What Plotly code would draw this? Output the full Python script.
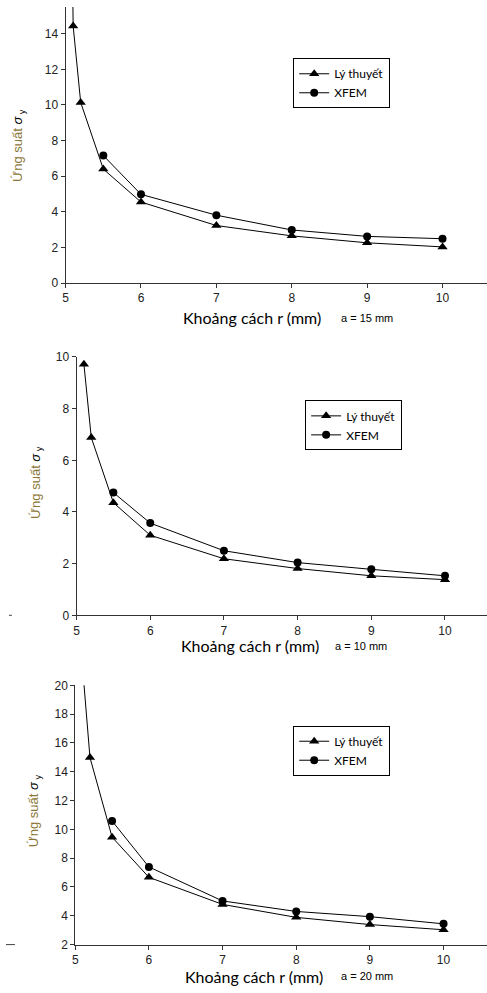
import plotly.graph_objects as go

# ---------------- data ----------------
r_theory_15 = [5.01, 5.1, 5.2, 5.5, 6, 7, 8, 9, 10]
s_theory_15 = [45.7, 14.44, 10.14, 6.40, 4.55, 3.23, 2.65, 2.26, 2.03]
r_xfem = [5.5, 6, 7, 8, 9, 10]
s_xfem_15 = [7.16, 4.98, 3.81, 2.98, 2.62, 2.49]

r_theory_10 = [5.1, 5.2, 5.5, 6, 7, 8, 9, 10]
s_theory_10 = [9.72, 6.88, 4.36, 3.10, 2.19, 1.81, 1.53, 1.38]
s_xfem_10 = [4.75, 3.57, 2.50, 2.04, 1.78, 1.53]

r_theory_20 = [5.1, 5.2, 5.5, 6, 7, 8, 9, 10]
s_theory_20 = [21.2, 14.98, 9.46, 6.67, 4.79, 3.89, 3.39, 3.03]
s_xfem_20 = [10.58, 7.39, 5.03, 4.30, 3.94, 3.44]

series_names = ["Lý thuyết", "XFEM"]
x_title = "Khoảng cách r (mm)"
panel_notes = ["a = 15 mm", "a = 10 mm", "a = 20 mm"]
y_title = "<span style='color:#8a7636'>Ứng suất </span><i>σ</i><sub> y</sub>"

W, H = 487, 993

def py(px):
    return 1 - px / H

def pxx(px):
    return px / W

fig = go.Figure()

panels = [
    dict(rt=r_theory_15, st=s_theory_15, sx=s_xfem_15, xax="x", yax="y", leg="legend"),
    dict(rt=r_theory_10, st=s_theory_10, sx=s_xfem_10, xax="x2", yax="y2", leg="legend2"),
    dict(rt=r_theory_20, st=s_theory_20, sx=s_xfem_20, xax="x3", yax="y3", leg="legend3"),
]

for p in panels:
    fig.add_trace(go.Scatter(
        x=p["rt"], y=p["st"], name=series_names[0], mode="lines+markers",
        line=dict(color="black", width=1),
        marker=dict(symbol="triangle-up", size=9, color="black"),
        xaxis=p["xax"], yaxis=p["yax"], legend=p["leg"]))
    fig.add_trace(go.Scatter(
        x=r_xfem, y=p["sx"], name=series_names[1], mode="lines+markers",
        line=dict(color="black", width=1),
        marker=dict(symbol="circle", size=8, color="black"),
        xaxis=p["xax"], yaxis=p["yax"], legend=p["leg"]))

tickfont = dict(family="Liberation Sans, Arial, sans-serif", size=12, color="#222")
axis_common = dict(showline=True, linecolor="#333", linewidth=1, ticks="outside",
                   ticklen=4, tickcolor="#333", showgrid=False, zeroline=False,
                   tickfont=tickfont)

# pixel geometry of the three plot areas
geo = [
    dict(xl=63, yt=0, yb=280, xr=[5, 10.59], yr=[0, 15.5]),
    dict(xl=74, yt=355, yb=617, xr=[5, 10.57], yr=[0, 10]),
    dict(xl=72.7, yt=688, yb=951, xr=[5, 10.59], yr=[2, 20]),
]

layout = dict(width=W, height=H, margin=dict(l=0, r=0, t=0, b=0),
              paper_bgcolor="white", plot_bgcolor="white", showlegend=True)

for i, g in enumerate(geo):
    sfx = "" if i == 0 else str(i + 1)
    layout["xaxis" + sfx] = dict(axis_common, domain=[pxx(g["xl"]), 1.0], range=g["xr"],
                                 dtick=1, tick0=5, anchor="y" + sfx)
    layout["yaxis" + sfx] = dict(axis_common, domain=[py(g["yb"]), py(g["yt"])], range=g["yr"],
                                 dtick=2, tick0=0, anchor="x" + sfx)

legfont = dict(family="Lato, Liberation Sans, sans-serif", size=12, color="black")
leg_pos = [(292, 52), (304, 399), (292, 729)]
for i, (lx, ly) in enumerate(leg_pos):
    key = "legend" if i == 0 else "legend" + str(i + 1)
    layout[key] = dict(x=pxx(lx), y=py(ly), xanchor="left", yanchor="top",
                       bordercolor="black", borderwidth=1, bgcolor="white",
                       font=legfont, itemwidth=30, tracegroupgap=0)

fig.update_layout(**layout)

# axis titles and notes
xt_pos = [(179, 315), (177, 648), (181, 983)]
note_pos = [(338, 315), (332, 648), (338, 983)]
yt_pos = [(15, 140), (33, 482), (32, 815)]
for i in range(3):
    fig.add_annotation(text=x_title, x=pxx(xt_pos[i][0]), y=py(xt_pos[i][1]),
                       xref="paper", yref="paper", xanchor="left", yanchor="middle",
                       showarrow=False,
                       font=dict(family="Lato, Liberation Sans, sans-serif", size=16, color="black"))
    fig.add_annotation(text=panel_notes[i], x=pxx(note_pos[i][0]), y=py(note_pos[i][1]),
                       xref="paper", yref="paper", xanchor="left", yanchor="middle",
                       showarrow=False,
                       font=dict(family="Liberation Sans, Arial, sans-serif", size=11, color="black"))
    fig.add_annotation(text=y_title, x=pxx(yt_pos[i][0]), y=py(yt_pos[i][1]),
                       xref="paper", yref="paper", xanchor="center", yanchor="middle",
                       textangle=-90, showarrow=False,
                       font=dict(family="Liberation Sans, Arial, sans-serif", size=13, color="black"))

# small stray dashes at the left margin
for (x0, x1, yy) in [(6, 9, 617), (3, 12, 951)]:
    fig.add_shape(type="line", xref="paper", yref="paper",
                  x0=pxx(x0), x1=pxx(x1), y0=py(yy), y1=py(yy),
                  line=dict(color="#444", width=1))

fig.write_html("out.html")
